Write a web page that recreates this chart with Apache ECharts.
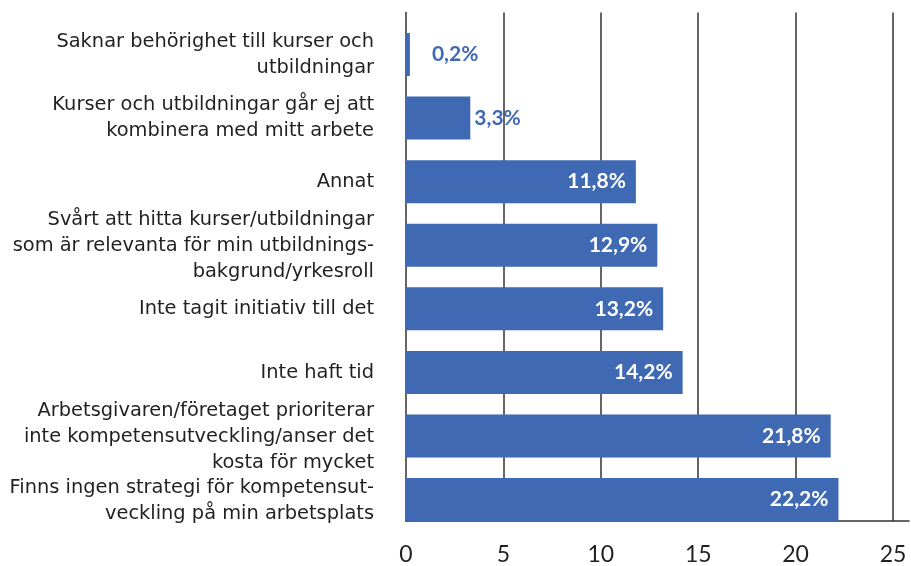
<!DOCTYPE html>
<html>
<head>
<meta charset="utf-8">
<script src="https://cdn.jsdelivr.net/npm/echarts@6/dist/echarts.min.js"></script>
<style>
  html, body { margin: 0; padding: 0; background: #fff; }
  #chart { width: 911px; height: 566px; }
</style>
</head>
<body>
<div id="chart"></div>
<script>
const categories = [
  "Saknar behörighet till kurser och\nutbildningar",
  "Kurser och utbildningar går ej att\nkombinera med mitt arbete",
  "Annat",
  "Svårt att hitta kurser/utbildningar\nsom är relevanta för min utbildnings-\nbakgrund/yrkesroll",
  "Inte tagit initiativ till det",
  "Inte haft tid",
  "Arbetsgivaren/företaget prioriterar\ninte kompetensutveckling/anser det\nkosta för mycket",
  "Finns ingen strategi för kompetensut-\nveckling på min arbetsplats"
];
const values = [0.2, 3.3, 11.8, 12.9, 13.2, 14.2, 21.8, 22.2];
const xTicks = [0, 5, 10, 15, 20, 25];

const blue = "#3f69b3";
const textColor = "#231f20";
const labelFont = "'DejaVu Sans', sans-serif";
const numFont = "Lato, 'Noto Sans', sans-serif";

const chart = echarts.init(document.getElementById("chart"));

const option = {
  animation: false,
  grid: [
    // staplarna
    { left: 406, right: 2, top: 12.4, bottom: 44 },
    // bara kategoritexterna, förskjutna ner till staplarnas mitt
    { left: 406, right: 2, top: 22.75, bottom: 33.65 }
  ],
  xAxis: [
    {
      type: "value",
      gridIndex: 0,
      min: 0,
      max: 25.82,
      interval: 5,
      axisLine: { show: true, lineStyle: { color: "#333", width: 1.5 } },
      axisTick: { show: false },
      axisLabel: {
        showMaxLabel: false,
        margin: 22,
        color: textColor,
        fontSize: 23,
        fontFamily: numFont,
        formatter: (v) => (xTicks.indexOf(v) >= 0 ? String(v) : "")
      },
      splitLine: {
        show: true,
        showMinLine: false,
        showMaxLine: false,
        lineStyle: { color: "#333", width: 1.5 }
      }
    },
    { type: "value", gridIndex: 1, show: false, min: 0, max: 25.82 }
  ],
  yAxis: [
    {
      type: "category",
      gridIndex: 0,
      inverse: true,
      data: categories,
      axisLine: { show: true, lineStyle: { color: "#333", width: 1.5 } },
      axisTick: { show: false },
      axisLabel: { show: false }
    },
    {
      type: "category",
      gridIndex: 1,
      inverse: true,
      data: categories,
      axisLine: { show: false },
      axisTick: { show: false },
      splitLine: { show: false },
      axisLabel: {
        interval: 0,
        hideOverlap: false,
        margin: 32,
        color: textColor,
        fontSize: 19.4,
        lineHeight: 26,
        fontFamily: labelFont,
        align: "right"
      }
    }
  ],
  series: [
    {
      // tom serie som skjuter ner staplarna mot bandets botten
      type: "bar",
      xAxisIndex: 0,
      yAxisIndex: 0,
      barWidth: 20.7,
      silent: true,
      data: values.map(() => "-")
    },
    {
      type: "bar",
      xAxisIndex: 0,
      yAxisIndex: 0,
      barWidth: 43,
      barGap: 0,
      itemStyle: { color: blue },
      label: {
        show: true,
        position: "insideRight",
        distance: 10,
        color: "#fff",
        fontSize: 21,
        fontWeight: "bold",
        fontFamily: numFont,
        formatter: (p) => p.value.toFixed(1).replace(".", ",") + "%"
      },
      data: values.map((v) =>
        v < 5
          ? {
              value: v,
              label: {
                position: "right",
                distance: v < 1 ? 22 : 4,
                color: blue
              }
            }
          : v
      )
    }
  ]
};

chart.setOption(option);
window.addEventListener("resize", () => {
  chart.resize();
});
</script>
</body>
</html>
